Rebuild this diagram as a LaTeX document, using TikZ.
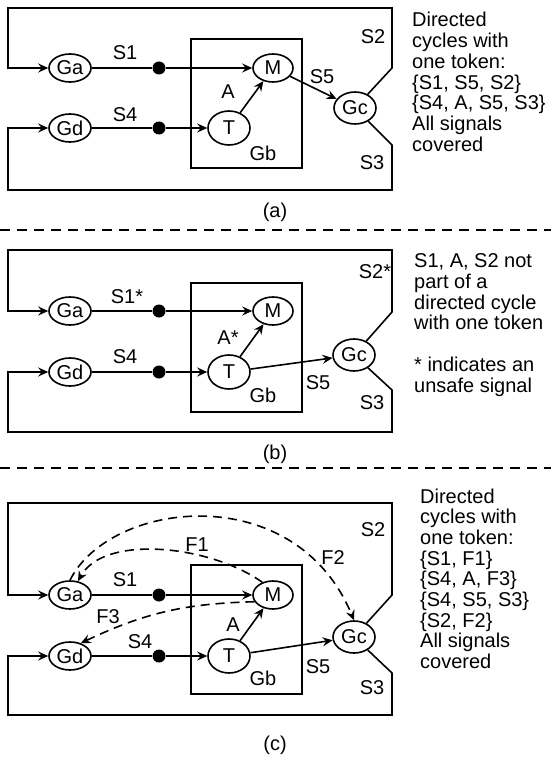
\documentclass[tikz,border=0pt]{standalone}
\usepackage{fontspec}
\setmainfont{Liberation Sans}
\usetikzlibrary{shapes.geometric,arrows.meta}
\begin{document}
\begin{tikzpicture}[x=1pt,y=-1pt,
  every node/.style={font=\fontsize{20}{20.7}\selectfont},
  gate/.style={draw,ellipse,line width=1.6pt,inner sep=0pt,minimum width=42pt,minimum height=28pt},
  gbox/.style={draw,line width=1.6pt,inner sep=0pt,minimum width=111pt,minimum height=129pt},
  tok/.style={circle,fill=black,inner sep=0pt,minimum size=13pt},
  wire/.style={line width=1.6pt},
  arr/.style={wire,-{Stealth[length=10pt,width=9pt,inset=3.5pt]}},
  fb/.style={arr,dash pattern=on 9pt off 6pt},
  lbl/.style={inner sep=0pt},
  note/.style={align=left,anchor=base west,inner sep=0pt},
  sep/.style={line width=1.8pt,dash pattern=on 10pt off 7pt}
]
\useasboundingbox (0,0) rectangle (551,757);

% ================= panel (a) =================
\node[gbox] (Gb1) at (246.5,103.5) {};
\node[gate] (Ga1) at (70,68) {Ga};
\node[gate] (Gd1) at (70,128) {Gd};
\node[gate,minimum width=40pt] (M1) at (273,68) {M};
\node[gate,minimum height=34pt] (T1) at (229,128) {T};
\node[gate,minimum height=32pt] (Gc1) at (355,108) {Gc};
\node[tok] (k11) at (159,68) {};
\node[tok] (k12) at (159,128) {};
\draw[wire] (Ga1) -- (k11);
\draw[arr] (k11) -- (M1);
\draw[wire] (Gd1) -- (k12);
\draw[arr] (k12) -- (T1);
\draw[arr] (T1) -- (M1);
\draw[arr] (M1) -- (Gc1);
\draw[arr] (Gc1) -- (392,68) -- (392,8) -- (8,8) -- (8,68) -- (Ga1);
\draw[arr] (Gc1) -- (392,145) -- (392,190) -- (8,190) -- (8,128) -- (Gd1);
\node[lbl] (la1) at (125,53) {S1};
\node[lbl] (la2) at (125,115) {S4};
\node[lbl] (la3) at (228,92) {A};
\node[lbl] (la4) at (263,153) {Gb};
\node[lbl] (la5) at (322,77) {S5};
\node[lbl] (la6) at (373,37) {S2};
\node[lbl] (la7) at (372,163) {S3};
\node[lbl] (capa) at (275,212) {(a)};
\node[note] (ta) at (412,151.2) {Directed\\cycles with\\one token:\\\{S1, S5, S2\}\\\{S4, A, S5, S3\}\\All signals\\covered};

\draw[sep] (0,230) -- (551,230);

% ================= panel (b) =================
\node[gbox] (Gb2) at (246.5,347.5) {};
\node[gate] (Ga2) at (70,311) {Ga};
\node[gate] (Gd2) at (70,372) {Gd};
\node[gate,minimum width=40pt] (M2) at (273,311) {M};
\node[gate,minimum height=34pt] (T2) at (229,372) {T};
\node[gate,minimum height=32pt] (Gc2) at (354,355) {Gc};
\node[tok] (k21) at (159,311) {};
\node[tok] (k22) at (159,372) {};
\draw[wire] (Ga2) -- (k21);
\draw[arr] (k21) -- (M2);
\draw[wire] (Gd2) -- (k22);
\draw[arr] (k22) -- (T2);
\draw[arr] (T2) -- (M2);
\draw[arr] (T2) -- (Gc2);
\draw[arr] (Gc2) -- (392,312) -- (392,250) -- (8,250) -- (8,311) -- (Ga2);
\draw[arr] (Gc2) -- (392,390) -- (392,432) -- (8,432) -- (8,372) -- (Gd2);
\node[lbl] (lb1) at (127,297) {S1*};
\node[lbl] (lb2) at (125,357) {S4};
\node[lbl] (lb3) at (228,338) {A*};
\node[lbl] (lb4) at (263,395) {Gb};
\node[lbl] (lb5) at (318,383) {S5};
\node[lbl] (lb6) at (375,272) {S2*};
\node[lbl] (lb7) at (372,403) {S3};
\node[lbl] (capb) at (275,454) {(b)};
\node[note] (tb) at (414,392) {S1, A, S2 not\\part of a\\directed cycle\\with one token\\[20.7pt]* indicates an\\unsafe signal};

\draw[sep] (0,468) -- (551,468);

% ================= panel (c) =================
\node[gbox] (Gb3) at (246.5,629.5) {};
\node[gate] (Ga3) at (70,595) {Ga};
\node[gate] (Gd3) at (70,656) {Gd};
\node[gate,minimum width=40pt] (M3) at (273,595) {M};
\node[gate,minimum height=34pt] (T3) at (229,656) {T};
\node[gate,minimum height=32pt] (Gc3) at (354,637) {Gc};
\node[tok] (k31) at (159,595) {};
\node[tok] (k32) at (159,656) {};
\draw[wire] (Ga3) -- (k31);
\draw[arr] (k31) -- (M3);
\draw[wire] (Gd3) -- (k32);
\draw[arr] (k32) -- (T3);
\draw[arr] (T3) -- (M3);
\draw[arr] (T3) -- (Gc3);
\draw[arr] (Gc3) -- (392,595) -- (392,503) -- (8,503) -- (8,595) -- (Ga3);
\draw[arr] (Gc3) -- (392,673) -- (392,715) -- (8,715) -- (8,656) -- (Gd3);
\draw[fb] (Ga3.north) .. controls (110,500) and (295,478) .. (Gc3.north);
\draw[fb] (M3.130) .. controls (210,545) and (104,534) .. (Ga3.60);
\draw[fb] (M3.200) to[bend right=12] (Gd3.50);
\node[lbl] (lc1) at (125,580) {S1};
\node[lbl] (lc2) at (140,642) {S4};
\node[lbl] (lc3) at (233,625) {A};
\node[lbl] (lc4) at (263,678) {Gb};
\node[lbl] (lc5) at (318,667) {S5};
\node[lbl] (lc6) at (373,530) {S2};
\node[lbl] (lc7) at (372,688) {S3};
\node[lbl] (lc8) at (197,545) {F1};
\node[lbl] (lc9) at (333,558) {F2};
\node[lbl] (lc10) at (108,617) {F3};
\node[lbl] (capc) at (275,745) {(c)};
\node[note] (tc) at (420,668.6) {Directed\\cycles with\\one token:\\\{S1, F1\}\\\{S4, A, F3\}\\\{S4, S5, S3\}\\\{S2, F2\}\\All signals\\covered};
\end{tikzpicture}
\end{document}
